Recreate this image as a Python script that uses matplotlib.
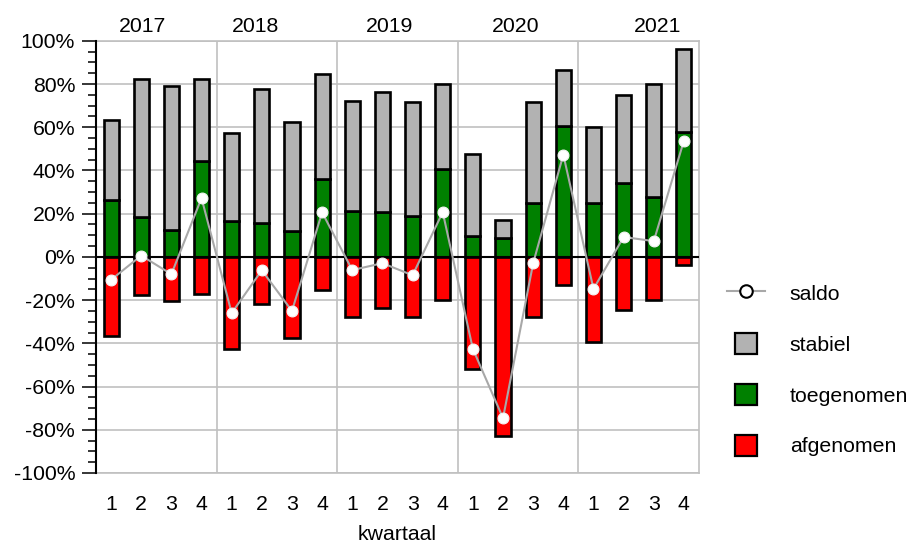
import matplotlib
matplotlib.use("Agg")
import matplotlib.pyplot as plt
import numpy as np
from matplotlib.patches import Rectangle, Patch
from matplotlib.lines import Line2D
from matplotlib.legend_handler import HandlerPatch
from matplotlib.ticker import MultipleLocator, FuncFormatter
import matplotlib.transforms as mtransforms

plt.rcParams["font.family"] = ["Liberation Sans", "DejaVu Sans"]

# quarterly survey results (% of respondents)
years = ["2017", "2018", "2019", "2020", "2021"]
quarters = ["1", "2", "3", "4"] * 5
toegenomen = [26.1, 18.3, 12.6, 44.2, 16.8, 15.5, 12.0, 36.0, 21.4, 20.6,
              19.1, 40.9, 9.5, 8.6, 24.8, 60.6, 24.8, 34.0, 27.7, 57.6]
stabiel = [37.3, 63.9, 66.5, 38.3, 40.5, 62.4, 50.5, 48.7, 50.9, 55.8,
           52.8, 39.0, 38.2, 8.3, 47.1, 26.1, 35.5, 41.0, 52.3, 38.5]
afgenomen = [-36.5, -17.6, -20.5, -17.1, -42.5, -21.9, -37.3, -15.3, -27.6, -23.6,
             -27.9, -20.0, -51.9, -82.9, -27.9, -13.1, -39.3, -24.7, -20.0, -3.6]
saldo = [-10.6, 0.6, -8.0, 27.2, -26.0, -6.2, -25.0, 20.6, -6.1, -2.9,
         -8.5, 20.7, -42.6, -74.6, -2.9, 47.3, -14.8, 9.2, 7.3, 53.8]

FS = 15.3
GRID = "#c0c0c0"
C_STAB = "#b2b2b2"
C_TOE = "#008000"
C_AF = "#ff0000"
C_LINE = "#a8a8a8"

fig = plt.figure(figsize=(9.1, 5.45), dpi=100)
ax = fig.add_axes([96 / 910, 1 - 473 / 545, (699 - 96) / 910, (473 - 40.8) / 545])

x = np.arange(len(quarters))
w = 0.5
bar_kw = dict(width=w, edgecolor="black", linewidth=1.9, zorder=3)
ax.bar(x, toegenomen, color=C_TOE, **bar_kw)
ax.bar(x, stabiel, bottom=toegenomen, color=C_STAB, **bar_kw)
ax.bar(x, afgenomen, color=C_AF, **bar_kw)
ax.plot(x, saldo, color=C_LINE, linewidth=1.5, marker="o", markersize=7.8,
        markerfacecolor="white", markeredgecolor="#f4f4f4", markeredgewidth=0.8,
        zorder=5)

ax.set_xlim(-0.5, len(quarters) - 0.5)
ax.set_ylim(-100, 100)

# horizontal grid, year separators and zero line
ax.yaxis.set_major_locator(MultipleLocator(20))
ax.yaxis.set_minor_locator(MultipleLocator(5))
ax.yaxis.set_major_formatter(FuncFormatter(lambda v, p: f"{v:.0f}%"))
ax.grid(axis="y", color=GRID, linewidth=1.2, zorder=0)
for sep in np.arange(4, len(quarters), 4) - 0.5:
    ax.axvline(sep, color=GRID, linewidth=1.2, zorder=1)
ax.axhline(0, color="black", linewidth=1.5, zorder=4)

for side in ("top", "right", "bottom"):
    ax.spines[side].set_color(GRID)
    ax.spines[side].set_linewidth(1.2)
ax.spines["left"].set_color("black")
ax.spines["left"].set_linewidth(1.5)
ax.spines["left"].set_zorder(6)

ax.set_xticks(x)
ax.set_xticklabels(quarters, fontsize=FS)
ax.tick_params(axis="x", length=0, pad=15.5)
ax.tick_params(axis="y", which="major", length=10, width=1.1, pad=5, labelsize=FS)
ax.tick_params(axis="y", which="minor", length=6, width=1.1)
ax.set_xlabel("kwartaal", fontsize=FS, labelpad=8)

# year labels above each group of quarters
year_label_x = [1.04, 4.80, 9.25, 13.42, 18.12]
trans = mtransforms.blended_transform_factory(ax.transData, ax.transAxes)
for xp, yr in zip(year_label_x, years):
    ax.text(xp, 1.033, yr, transform=trans, ha="center", va="center", fontsize=FS)


def square(legend, orig_handle, xdescent, ydescent, width, height, fontsize):
    s = height
    return Rectangle((-xdescent + (width - s) / 2, -ydescent + (height - s) / 2), s, s)


handles = [
    Line2D([], [], color=C_LINE, linewidth=1.5, marker="o", markersize=9,
           markerfacecolor="white", markeredgecolor="black", markeredgewidth=1.5),
    Patch(facecolor=C_STAB, edgecolor="black", linewidth=1.6),
    Patch(facecolor=C_TOE, edgecolor="black", linewidth=1.6),
    Patch(facecolor=C_AF, edgecolor="black", linewidth=1.6),
]
labels = ["saldo", "stabiel", "toegenomen", "afgenomen"]
fig.legend(handles, labels, loc="upper left",
           bbox_to_anchor=(727 / 910, 1 - 282 / 545), bbox_transform=fig.transFigure,
           frameon=False, fontsize=FS, borderpad=0, borderaxespad=0,
           handlelength=1.77, handleheight=1.18, handletextpad=1.18,
           labelspacing=1.36,
           handler_map={Patch: HandlerPatch(patch_func=square)})

fig.savefig("out.png", dpi=100)
